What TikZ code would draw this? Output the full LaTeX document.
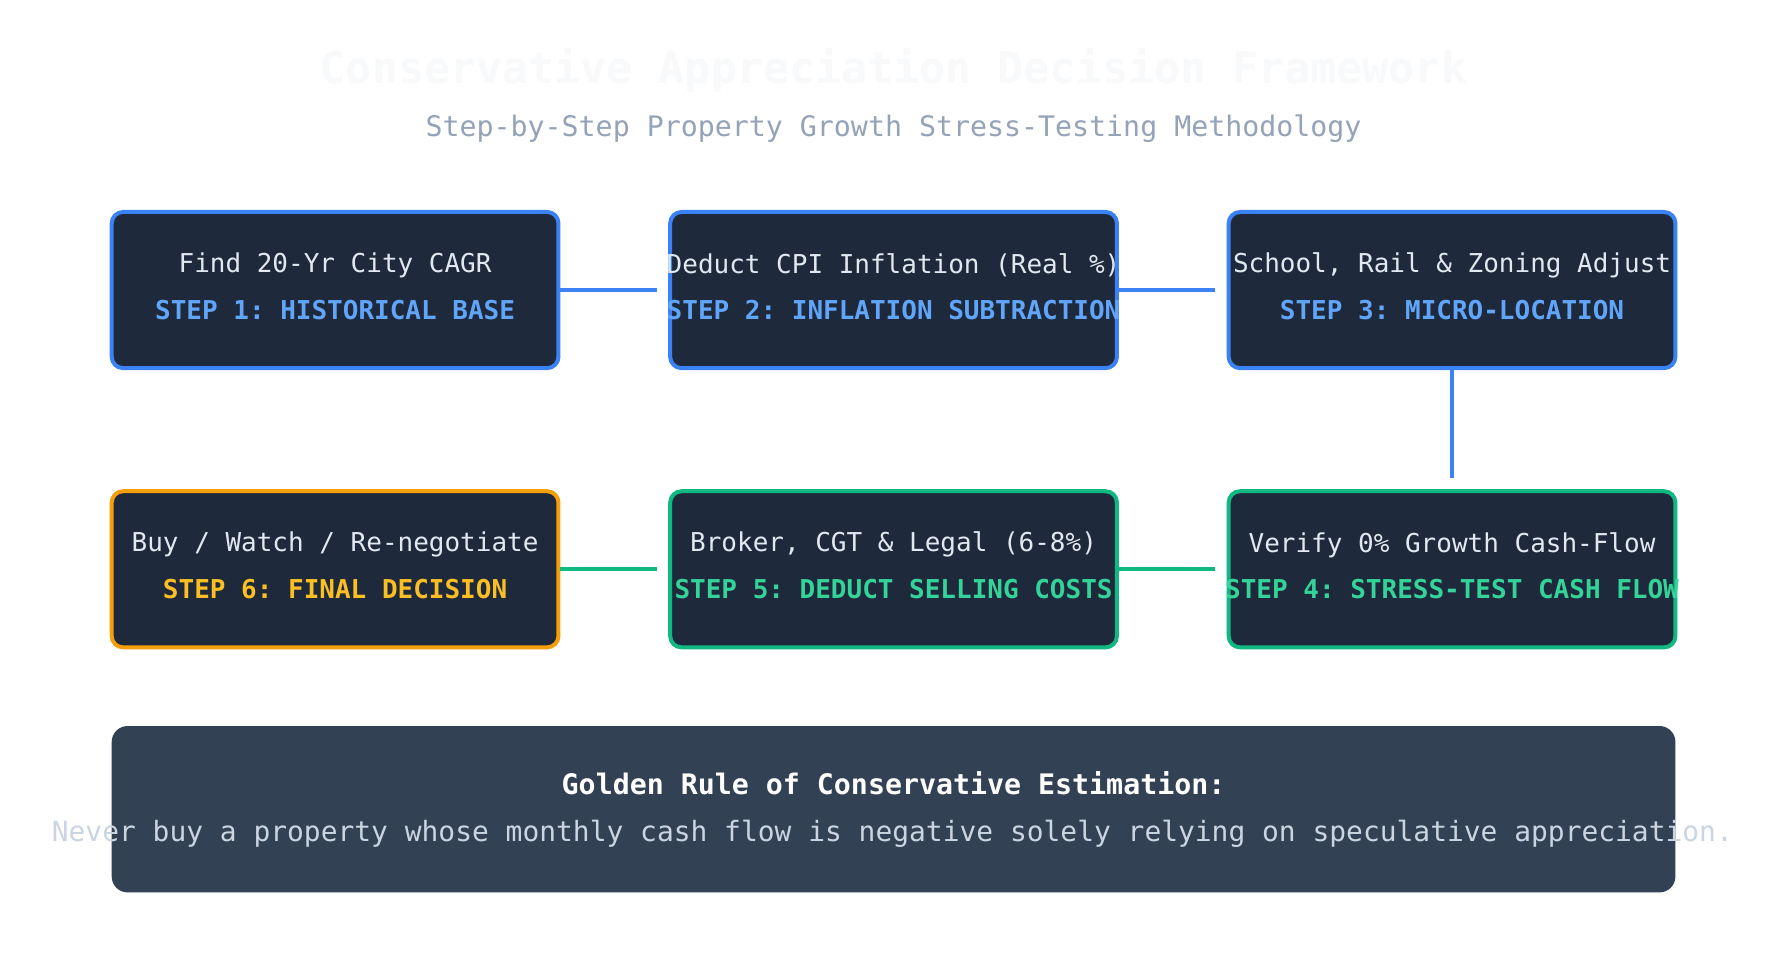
\documentclass[tikz,border=0pt]{standalone}
\usepackage{fontspec}
\setmonofont{DejaVu Sans Mono}
\begin{document}
\begin{tikzpicture}[x=1pt,y=-1pt,
  box/.style={draw=#1,line width=3.5pt,rounded corners=10pt,fill=boxfill,minimum width=392pt,minimum height=137pt,inner sep=0pt},
  ttl/.style={font=\ttfamily\bfseries\fontsize{22.8}{27}\selectfont},
  bdy/.style={font=\ttfamily\fontsize{22.8}{27}\selectfont,text=bodytxt},
  conn/.style={draw=#1,line width=3.5pt}]
\definecolor{boxfill}{HTML}{1E293B}
\definecolor{bl}{HTML}{3B82F6}
\definecolor{gr}{HTML}{10B981}
\definecolor{og}{HTML}{F59E0B}
\definecolor{blt}{HTML}{60A5FA}
\definecolor{grt}{HTML}{34D399}
\definecolor{ogt}{HTML}{FBBF24}
\definecolor{bodytxt}{HTML}{E2E8F0}
\definecolor{sub}{HTML}{94A3B8}
\definecolor{faint}{HTML}{F8F9FB}
\definecolor{gold}{HTML}{334155}
\definecolor{rule}{HTML}{CBD5E1}
\useasboundingbox[fill=white] (0,0) rectangle (1560,858);
\node[font=\ttfamily\bfseries\fontsize{38}{44}\selectfont,text=faint] (title) at (784,62) {Conservative Appreciation Decision Framework};
\node[font=\ttfamily\fontsize{24.8}{30}\selectfont,text=sub] (subtitle) at (784,113) {Step-by-Step Property Growth Stress-Testing Methodology};
\node[box=bl] (s1) at (294,254.5) {};
\node[box=bl] (s2) at (784,254.5) {};
\node[box=bl] (s3) at (1274,254.5) {};
\node[box=og] (s6) at (294,499.5) {};
\node[box=gr] (s5) at (784,499.5) {};
\node[box=gr] (s4) at (1274,499.5) {};
\foreach \n/\c/\t/\b in {s1/blt/{STEP 1: HISTORICAL BASE}/{Find 20-Yr City CAGR},
  s2/blt/{STEP 2: INFLATION SUBTRACTION}/{Deduct CPI Inflation (Real \%)},
  s3/blt/{STEP 3: MICRO-LOCATION}/{School, Rail \& Zoning Adjust},
  s6/ogt/{STEP 6: FINAL DECISION}/{Buy / Watch / Re-negotiate},
  s5/grt/{STEP 5: DEDUCT SELLING COSTS}/{Broker, CGT \& Legal (6-8\%)},
  s4/grt/{STEP 4: STRESS-TEST CASH FLOW}/{Verify 0\% Growth Cash-Flow}}{
  \node[ttl,text=\c] (\n t) at ([yshift=-17.5pt]\n.center) {\t};
  \node[bdy] (\n b) at ([yshift=21.5pt]\n.center) {\b};
}
\draw[conn=bl,shorten >=10pt] (s1.east) -- (s2.west);
\draw[conn=bl,shorten >=10pt] (s2.east) -- (s3.west);
\draw[conn=bl,shorten >=10pt] (s3.south) -- (s4.north);
\draw[conn=gr,shorten <=10pt] (s4.west) -- (s5.east);
\draw[conn=gr,shorten <=10pt] (s5.west) -- (s6.east);
\node[fill=gold,rounded corners=14pt,minimum width=1372pt,minimum height=146pt,inner sep=0pt] (gr) at (784,710) {};
\node[font=\ttfamily\bfseries\fontsize{24.8}{30}\selectfont,text=white] (grt) at (784,687) {Golden Rule of Conservative Estimation:};
\node[font=\ttfamily\fontsize{24.5}{30}\selectfont,text=rule] (grb) at (783,732) {Never buy a property whose monthly cash flow is negative solely relying on speculative appreciation.};
\end{tikzpicture}
\end{document}
